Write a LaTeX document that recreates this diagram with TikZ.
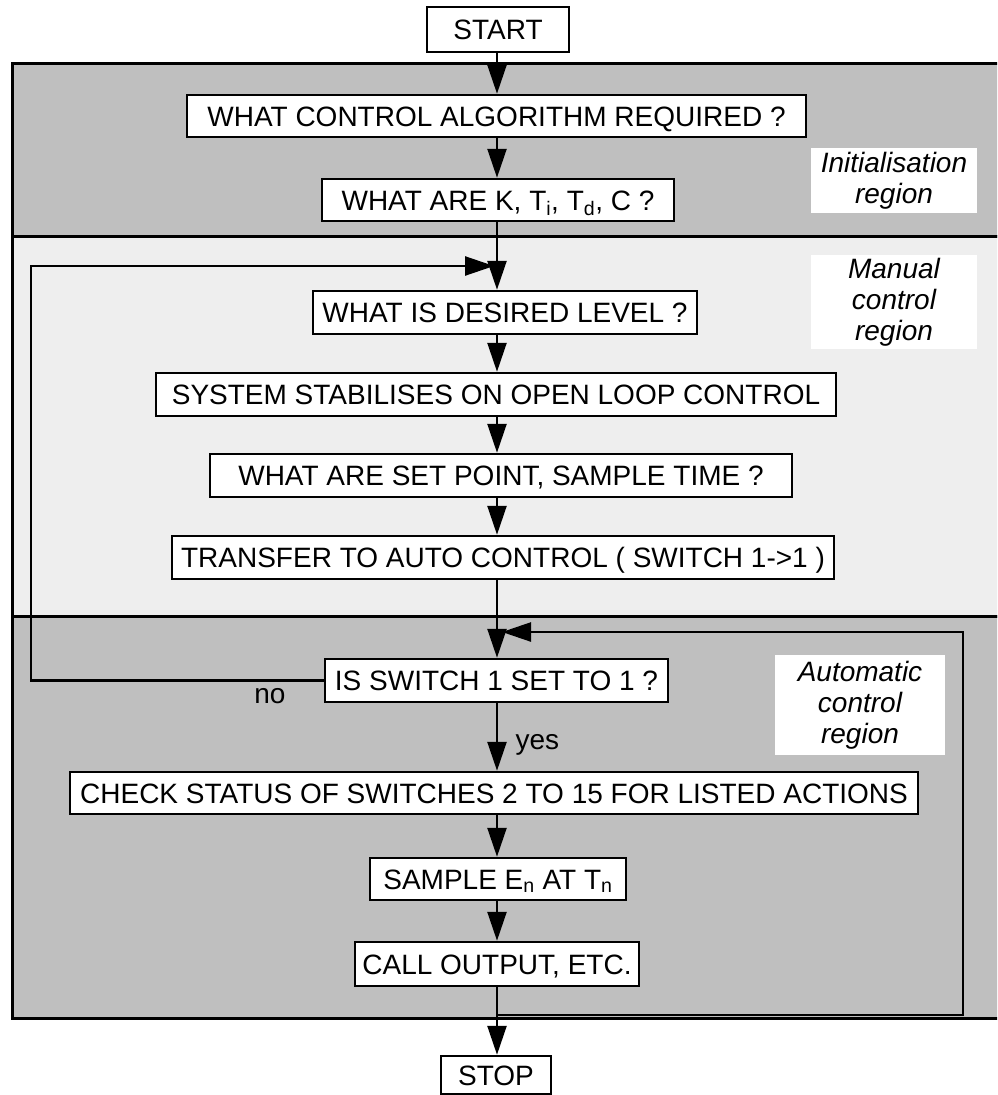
\documentclass[tikz,border=0pt]{standalone}
\usepackage{fontspec}
\setmainfont{Liberation Sans}
\usepackage{tikz}
\usetikzlibrary{arrows.meta}
\definecolor{bandgray}{gray}{0.75}
\definecolor{bandlight}{gray}{0.935}

\begin{document}
\begin{tikzpicture}[x=1pt, y=-1pt,
  flowbox/.style={draw, line width=2.5pt, fill=white, inner sep=0pt, minimum height=43pt, text height=20pt, text depth=0pt, font=\fontsize{28}{31}\selectfont},
  regionlabel/.style={fill=white, inner sep=0pt, align=center, font=\fontsize{28}{31}\selectfont\itshape},
  flow/.style={line width=2.5pt, -{Triangle[width=19pt,length=29pt]}},
  band/.style={line width=3pt}]
\useasboundingbox (0,0) rectangle (997,1095);
\clip (0,0) rectangle (997,1095);
\filldraw[band, fill=bandgray] (12,63) rectangle (1012,236);
\filldraw[band, fill=bandlight] (12,236) rectangle (1012,616);
\filldraw[band, fill=bandgray] (12,616) rectangle (1012,1018);
\coordinate (axis) at (497,0);

\node[flowbox, minimum width=142pt, minimum height=45pt] (start) at (498,29.5) {START};
\node[flowbox, minimum width=619pt, minimum height=42pt] (algorithm) at (496.5,116) {WHAT CONTROL ALGORITHM REQUIRED ?};
\node[flowbox, minimum width=352pt, minimum height=42pt] (gains) at (498,200) {WHAT ARE K, T\textsubscript{i}, T\textsubscript{d}, C ?};
\node[flowbox, minimum width=384pt] (level) at (505,312.5) {WHAT IS DESIRED LEVEL ?};
\node[flowbox, minimum width=680pt] (openloop) at (496,394.5) {SYSTEM STABILISES ON OPEN LOOP CONTROL};
\node[flowbox, minimum width=582pt] (setpoint) at (501,475.5) {WHAT ARE SET POINT, SAMPLE TIME ?};
\node[flowbox, minimum width=662pt] (transfer) at (503,557.5) {TRANSFER TO AUTO CONTROL ( SWITCH 1->1 )};
\node[flowbox, minimum width=343pt] (switch) at (496.5,680.5) {IS SWITCH 1 SET TO 1 ?};
\node[flowbox, minimum width=848pt, minimum height=42pt] (check) at (494,793) {CHECK STATUS OF SWITCHES 2 TO 15 FOR LISTED ACTIONS};
\node[flowbox, minimum width=256pt, minimum height=42pt] (sample) at (498,879) {SAMPLE E\textsubscript{n} AT T\textsubscript{n}};
\node[flowbox, minimum width=284pt, minimum height=44pt] (output) at (497,964) {CALL OUTPUT, ETC.};
\node[flowbox, minimum width=110pt, minimum height=38pt] (stop) at (496,1075) {STOP};

\node[regionlabel, minimum width=166pt, minimum height=65pt] (initlabel) at (894,180.5) {Initialisation\\region};
\node[regionlabel, minimum width=166pt, minimum height=94pt] (manuallabel) at (894,302) {Manual\\control\\region};
\node[regionlabel, minimum width=170pt, minimum height=100pt] (autolabel) at (860,705) {Automatic\\control\\region};

\draw[flow] (start.south -| axis) -- (algorithm.north -| axis);
\draw[flow] (algorithm.south -| axis) -- (gains.north -| axis);
\draw[flow] (gains.south -| axis) -- (level.north -| axis);
\draw[flow] (level.south -| axis) -- (openloop.north -| axis);
\draw[flow] (openloop.south -| axis) -- (setpoint.north -| axis);
\draw[flow] (setpoint.south -| axis) -- (transfer.north -| axis);
\draw[flow] (transfer.south -| axis) -- (switch.north -| axis);
\draw[flow] (switch.south -| axis) -- (check.north -| axis) node[pos=0.62, right=14pt, font=\fontsize{28}{31}\selectfont] (yes) {yes};
\draw[flow] (check.south -| axis) -- (sample.north -| axis);
\draw[flow] (sample.south -| axis) -- (output.north -| axis);
\draw[flow] (output.south -| axis) -- (stop.north -| axis);

\coordinate (noleft) at (31,266);
\coordinate (nojoin) at (494,266);
\draw[flow] (switch.west) -| (noleft) -- (nojoin);
\node[font=\fontsize{28}{31}\selectfont] (no) at (270,696) {no};

\coordinate (backout) at (497,1015);
\coordinate (backcorner) at (963,632);
\coordinate (backjoin) at (502,632);
\draw[flow] (backout) -| (backcorner) -- (backjoin);
\end{tikzpicture}
\end{document}
